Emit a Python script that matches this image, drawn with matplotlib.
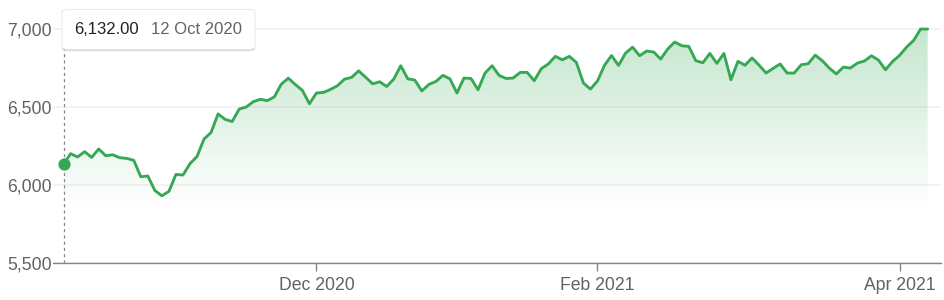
import matplotlib

matplotlib.use("Agg")
import matplotlib.pyplot as plt
import numpy as np
import pandas as pd
from matplotlib.patches import FancyBboxPatch
from matplotlib.ticker import FuncFormatter

plt.rcParams["font.family"] = ["Liberation Sans", "DejaVu Sans"]

# ASX trading calendar, 12 Oct 2020 -> 9 Apr 2021
START, END = "2020-10-12", "2021-04-09"
HOLIDAYS = ["2020-12-25", "2020-12-28", "2021-01-01", "2021-01-26",
            "2021-04-02", "2021-04-05"]
TICK_MONTHS = ["2020-12", "2021-02", "2021-04"]
Y_TICKS = [5500, 6000, 6500, 7000]

# daily closes
CLOSES = [
    6132, 6201, 6180, 6214, 6177, 6231, 6188, 6194, 6175, 6171,
    6158, 6053, 6058, 5965, 5931, 5959, 6068, 6064, 6137, 6183,
    6295, 6337, 6456, 6421, 6407, 6487, 6500, 6534, 6550, 6541,
    6565, 6647, 6685, 6644, 6607, 6521, 6590, 6594, 6613, 6637,
    6679, 6690, 6732, 6691, 6649, 6662, 6632, 6679, 6765, 6681,
    6673, 6603, 6645, 6664, 6703, 6681, 6590, 6686, 6683, 6611,
    6718, 6765, 6703, 6683, 6686, 6722, 6722, 6669, 6746, 6776,
    6825, 6803, 6825, 6786, 6654, 6615, 6667, 6768, 6830, 6767,
    6846, 6884, 6829, 6859, 6853, 6808, 6872, 6917, 6893, 6889,
    6797, 6784, 6844, 6780, 6844, 6675, 6793, 6768, 6815, 6769,
    6718, 6748, 6776, 6718, 6718, 6771, 6778, 6833, 6797, 6750,
    6712, 6756, 6750, 6782, 6795, 6829, 6801, 6739, 6792, 6831,
    6884, 6927, 7000, 7000,
]

GREEN = "#34a853"
GREY = "#5f6368"

dates = pd.bdate_range(START, END, freq="C", holidays=HOLIDAYS)
vals = np.array(CLOSES, dtype=float)
x = np.arange(len(vals))

W, H = 945, 300
fig = plt.figure(figsize=(W / 100, H / 100), dpi=100)
ax = fig.add_axes([53 / W, 37 / H, 888 / W, 1 - 38 / H])
ax.set_xlim(-1.5, len(vals) + 0.9)
ax.set_ylim(5500, 7180)

# gradient fill under the line
poly = ax.fill_between(x, vals, 5500, facecolor="none", edgecolor="none")
top, bot = 7000, 5850
grad = np.zeros((256, 2, 4))
grad[..., :3] = matplotlib.colors.to_rgb(GREEN)
grad[..., 3] = np.linspace(0.29, 0.0, 256)[:, None]
im = ax.imshow(grad, aspect="auto", origin="upper",
               extent=[x[0], x[-1], bot, top], zorder=1, interpolation="bilinear")
im.set_clip_path(poly.get_paths()[0], transform=ax.transData)
ax.set_ylim(5500, 7180)

ax.plot(x, vals, color=GREEN, lw=2.05, zorder=3, solid_joinstyle="round",
        solid_capstyle="round", clip_on=False)
ax.plot(x[0], vals[0], "o", color=GREEN, ms=7.8, zorder=4, clip_on=False)

# axes styling
for s in ("top", "right", "left"):
    ax.spines[s].set_visible(False)
ax.spines["bottom"].set_color("#80868b")
ax.spines["bottom"].set_linewidth(1.0)
ax.set_yticks(Y_TICKS)
ax.yaxis.set_major_formatter(FuncFormatter(lambda v, _: f"{v:,.0f}"))
ax.tick_params(axis="y", length=0, pad=1, labelsize=12.7, labelcolor=GREY)
ax.grid(axis="y", color="#f0f0f0", lw=1.2, zorder=0)
ax.set_axisbelow(True)

month_key = dates.strftime("%Y-%m")
tick_idx = [int(np.argmax(month_key == m)) for m in TICK_MONTHS]
ax.set_xticks(tick_idx)
ax.set_xticklabels([dates[i].strftime("%b %Y") for i in tick_idx])
ax.tick_params(axis="x", length=6, width=1, color="#80868b", pad=4,
               labelsize=12.7, labelcolor=GREY)

# tooltip for the hovered (first) point
bx0, by0, bw, bh = 62 / W, 1 - 49.5 / H, 193 / W, 40 / H
for k, al in ((3, 0.04), (2, 0.06), (1, 0.10)):
    fig.patches.append(FancyBboxPatch(
        (bx0, by0 - k / H * 0.8), bw, bh, boxstyle="round,pad=0,rounding_size=0.008",
        transform=fig.transFigure, facecolor="black", edgecolor="none", alpha=al,
        zorder=5))
fig.patches.append(FancyBboxPatch(
    (bx0, by0), bw, bh, boxstyle="round,pad=0,rounding_size=0.008",
    transform=fig.transFigure, facecolor="white", edgecolor="#e0e0e0", lw=0.5,
    zorder=6))
fig.text(74 / W, by0 + bh / 2, f"{vals[0]:,.2f}", fontsize=12, color="#202124",
         va="center", ha="left", zorder=7)
fig.text(151 / W, by0 + bh / 2, f"{dates[0].day} {dates[0]:%b %Y}", fontsize=12,
         color=GREY, va="center", ha="left", zorder=7)

# dashed hover guide from the baseline up to the tooltip
ymax = ax.transAxes.inverted().transform(fig.transFigure.transform((0, by0)))[1]
ax.axvline(x[0], ymin=0, ymax=ymax, color="#80868b", lw=0.9, ls=(0, (2.5, 2.5)),
           zorder=2, clip_on=False)

fig.savefig("out.png", dpi=100, facecolor="white")
